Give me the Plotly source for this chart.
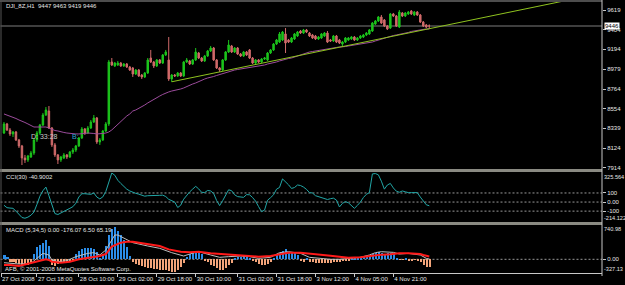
import plotly.graph_objects as go

# ---------------- data ----------------
symbol = "DJI_8Z,H1"

open_ = [
    8289, 8387, 8322, 8279, 8300, 8214, 8149, 8019, 7998, 8030,
    8073, 8214, 8289, 8376, 8484, 8527, 8343, 8160, 8052, 7998,
    8019, 8052, 8030, 8084, 8105, 8149, 8235, 8333, 8289, 8343,
    8408, 8452, 8192, 8214, 8311, 8387, 9057, 9014, 9024, 9046,
    9014, 9035, 9003, 8992, 8927, 8970, 8916, 8895, 8938, 9100,
    9057, 9014, 9079, 9046, 9133, 9079, 8873, 8916, 8906, 8938,
    8906, 9057, 9068, 9035, 9079, 9154, 9100, 9068, 9122, 9176,
    9208, 9079, 8992, 8970, 9079, 9165, 9230, 9165, 9208, 9143,
    9122, 9165, 9187, 9100, 9046, 9079, 9057, 9089, 9079, 9154,
    9187, 9251, 9273, 9295, 9360, 9295, 9273, 9306, 9338, 9392,
    9370, 9403, 9370, 9349, 9338, 9306, 9316, 9338, 9370, 9295,
    9284, 9338, 9295, 9251, 9273, 9295, 9306, 9327, 9295, 9316,
    9327, 9349, 9360, 9392, 9468, 9500, 9543, 9511, 9446, 9424,
    9576, 9554, 9435, 9587, 9554, 9576, 9608, 9565, 9597, 9565,
    9489, 9457, 9447]

high = [
    8408, 8398, 8343, 8311, 8311, 8225, 8160, 8052, 8052, 8095,
    8235, 8311, 8387, 8506, 8570, 8581, 8354, 8181, 8062, 8041,
    8073, 8062, 8095, 8127, 8160, 8246, 8354, 8343, 8365, 8430,
    8484, 8462, 8235, 8322, 8408, 9079, 9100, 9057, 9068, 9057,
    9046, 9046, 9014, 9003, 8981, 8981, 8927, 8949, 9100, 9187,
    9068, 9089, 9089, 9143, 9187, 9327, 8927, 8927, 8949, 8949,
    9068, 9100, 9079, 9089, 9208, 9165, 9111, 9133, 9187, 9230,
    9219, 9089, 9003, 9089, 9176, 9295, 9241, 9219, 9219, 9154,
    9176, 9176, 9197, 9111, 9089, 9089, 9100, 9111, 9165, 9197,
    9262, 9306, 9381, 9392, 9424, 9306, 9327, 9370, 9392, 9403,
    9414, 9414, 9381, 9360, 9349, 9338, 9370, 9381, 9392, 9306,
    9349, 9349, 9306, 9284, 9327, 9327, 9338, 9338, 9327, 9349,
    9360, 9381, 9414, 9489, 9511, 9554, 9565, 9522, 9457, 9587,
    9587, 9565, 9619, 9597, 9597, 9608, 9619, 9608, 9608, 9576,
    9500, 9468, 9463]

low = [
    8279, 8311, 8257, 8246, 8203, 8127, 7943, 7965, 7976, 8019,
    8052, 8192, 8268, 8365, 8473, 8333, 8138, 8030, 7954, 7976,
    8008, 8008, 8019, 8062, 8084, 8138, 8225, 8268, 8279, 8333,
    8398, 8171, 8160, 8203, 8300, 8365, 9014, 9003, 9014, 9003,
    9003, 8992, 8960, 8895, 8916, 8895, 8873, 8884, 8927, 9046,
    8992, 9003, 9035, 9035, 9122, 8852, 8841, 8895, 8895, 8895,
    8895, 9046, 9024, 9024, 9068, 9089, 9057, 9057, 9111, 9165,
    9068, 8981, 8949, 8960, 9068, 9154, 9154, 9154, 9133, 9111,
    9111, 9122, 9089, 9035, 9035, 9046, 9046, 9079, 9068, 9143,
    9176, 9241, 9262, 9284, 9154, 9262, 9262, 9295, 9327, 9360,
    9360, 9370, 9327, 9306, 9295, 9295, 9306, 9327, 9262, 9273,
    9273, 9262, 9251, 9230, 9262, 9284, 9295, 9284, 9284, 9306,
    9316, 9338, 9349, 9381, 9457, 9489, 9468, 9435, 9403, 9414,
    9543, 9435, 9424, 9543, 9543, 9565, 9565, 9554, 9554, 9478,
    9435, 9424, 9419]

close = [
    8387, 8322, 8279, 8300, 8214, 8149, 8019, 7998, 8041, 8073,
    8214, 8289, 8376, 8484, 8538, 8343, 8160, 8052, 7998, 8030,
    8052, 8030, 8084, 8105, 8149, 8235, 8333, 8289, 8343, 8408,
    8452, 8192, 8214, 8311, 8387, 9057, 9024, 9046, 9046, 9014,
    9035, 9003, 8970, 8927, 8970, 8906, 8895, 8938, 9079, 9057,
    9014, 9079, 9046, 9133, 9165, 8873, 8916, 8906, 8938, 8906,
    9057, 9079, 9035, 9079, 9165, 9100, 9068, 9122, 9176, 9208,
    9079, 8992, 8970, 9079, 9165, 9241, 9165, 9208, 9143, 9122,
    9165, 9133, 9100, 9046, 9079, 9057, 9089, 9100, 9154, 9187,
    9251, 9295, 9360, 9381, 9262, 9273, 9316, 9360, 9381, 9370,
    9403, 9381, 9338, 9316, 9306, 9327, 9360, 9370, 9273, 9284,
    9338, 9273, 9262, 9273, 9316, 9316, 9327, 9295, 9316, 9338,
    9349, 9370, 9403, 9478, 9500, 9543, 9478, 9446, 9414, 9576,
    9554, 9446, 9597, 9554, 9587, 9597, 9576, 9597, 9565, 9489,
    9446, 9435, 9446]

ma = [
    8495, 8484, 8473, 8462, 8446, 8430, 8419, 8403, 8387, 8370,
    8354, 8354, 8354, 8354, 8354, 8343, 8327, 8316, 8311, 8300,
    8295, 8289, 8284, 8284, 8279, 8279, 8279, 8284, 8289, 8289,
    8284, 8279, 8279, 8284, 8289, 8300, 8322, 8354, 8387, 8419,
    8446, 8473, 8495, 8527, 8538, 8554, 8576, 8592, 8614, 8635,
    8652, 8668, 8689, 8706, 8722, 8733, 8743, 8749, 8754, 8765,
    8776, 8792, 8808, 8819, 8830, 8846, 8862, 8873, 8884, 8889,
    8900, 8911, 8922, 8933, 8943, 8954, 8965, 8970, 8976, 8981,
    8987, 8992, 8997, 9003, 9008, 9014, 9019, 9024, 9035, 9041,
    9046, 9057, 9068, 9079, 9089, 9095, 9100, 9111, 9122, 9133,
    9149, 9160, 9165, 9170, 9176, 9181, 9187, 9197, 9203, 9208,
    9208, 9214, 9219, 9219, 9224, 9230, 9235, 9241, 9241, 9246,
    9251, 9262, 9268, 9273, 9284, 9295, 9306, 9316, 9327, 9338,
    9343, 9349, 9354, 9360, 9370, 9376, 9387, 9392, 9403, 9408,
    9414, 9414, 9414]

trend_bars = [56, 187]
trend_prices = [8843, 9717]

cci = [
    -35, -62, -66, -69, -100, -135, -170, -178, -166, -145,
    -110, -25, 65, 125, 165, 70, -40, -127, -137, -122,
    -104, -86, -69, -51, -13, 56, 92, 92, 90, 85,
    100, 55, 35, 57, 117, 227, 320, 295, 240, 205,
    172, 142, 122, 105, 96, 87, 77, 65, 70, 73,
    73, 73, 74, 76, 61, 30, 11, 0, -60, -35,
    32, 79, 112, 143, 173, 145, 107, 105, 128, 122,
    95, 17, -39, 15, 70, 135, 125, 80, 60, 58,
    52, 82, 80, 50, 10, -50, -106, -88, 20, 48,
    80, 142, 161, 255, 225, 190, 150, 160, 188, 182,
    165, 140, 104, 100, 70, 58, 50, 38, 28, 37,
    43, 22, -54, -15, 5, -8, -40, -69, -37, 0,
    50, 85, 104, 310, 314, 300, 230, 142, 188, 205,
    155, 120, 108, 122, 113, 104, 104, 104, 104, 55,
    5, -30, -40.9002]
cci_period = 30
cci_levels = [100, 0, -100]
cci_level_text = ["100", "0.00", "-100"]
cci_max, cci_min = 325.564, -214.122

macd_hist = [
    95, 60, -50, -55, -80, -100, -120, -130, -125, -90,
    120, 270, 320, 360, 440, 300, -120, -150, -100, -80,
    -70, -60, -50, -40, 110, 200, 240, 250, 255, 260,
    230, 170, 40, 120, 300, 560, 700, 735, 650, 560,
    430, 290, 80, -70, -110, -140, -160, -175, -190, -205,
    -215, -225, -235, -243, -250, -265, -280, -295, -250, -180,
    -80, 60, 130, 165, 173, 160, 110, -30, -70, -120,
    -160, -205, -240, -240, -190, -140, -80, 40, 60, 50,
    70, 45, 30, -20, -60, -100, -129, -129, -110, -70,
    30, 100, 150, 200, 225, 175, 150, 140, 100, -30,
    -50, 30, -54, -54, -90, -92, -92, -90, -85, -75,
    -60, -54, -50, -45, -40, -25, 10, 20, 40, 30,
    50, 60, 80, 110, 150, 170, 140, 100, 135, 150,
    120, 20, -10, -15, 20, -20, -25, -15, -20, -60,
    -120, -165, -176.07]

macd_main_bars = [0, 2, 5, 9, 11, 13, 15, 16, 18, 21,
                  24, 28, 30, 32, 34, 36, 37, 38, 39, 41,
                  43, 48, 52, 56, 60, 62, 65, 69, 72, 75,
                  79, 82, 85, 89, 92, 95, 99, 102, 105, 109,
                  112, 115, 119, 122, 124, 126, 130, 132, 135, 139,
                  141, 142]
macd_main = [-77, -92, -107, -92, 22, 135, 98, -16, -54, -31,
             60, 135, 151, 98, 211, 439, 552, 552, 514, 439,
             378, 302, 249, 151, 75, 120, 173, 98, 45, 60,
             75, 60, 22, 45, 151, 173, 135, 45, 22, 0,
             0, 22, 45, 98, 151, 173, 158, 120, 135, 98,
             22, 6.50]

macd_signal_bars = [0, 2, 5, 9, 12, 14, 15, 16, 19, 22,
                    25, 29, 32, 34, 36, 39, 41, 43, 45, 49,
                    52, 55, 59, 62, 65, 69, 72, 75, 79, 82,
                    85, 89, 92, 95, 99, 102, 105, 109, 112, 115,
                    119, 122, 125, 129, 132, 135, 139, 140, 142]
macd_signal = [-129, -129, -152, -92, -31, 0, -16, -54, -77, -54,
               0, 45, 75, 120, 287, 378, 401, 401, 378, 348,
               302, 226, 173, 158, 173, 135, 120, 120, 98, 75,
               60, 75, 120, 151, 151, 135, 120, 83, 60, 37,
               45, 75, 98, 113, 135, 135, 120, 98, 65.19]
macd_params = "(5,34,5)"
macd_max, macd_min = 740.98, -327.13

price_ticks = [9619, 9404, 9194, 8979, 8764, 8554, 8339, 8124, 7914]

date_ticks = [-1, 11, 25, 38, 51, 64, 78, 91, 104, 117, 130]
date_labels = ["27 Oct 2008", "27 Oct 18:00", "28 Oct 10:00", "29 Oct 02:00",
               "29 Oct 18:00", "30 Oct 10:00", "31 Oct 02:00", "31 Oct 18:00",
               "3 Nov 12:00", "4 Nov 05:00", "4 Nov 21:00"]

info_d = "D: 33:28"
info_b = "B:"
copyright_text = "AFB, \u00a9 2001-2008 MetaQuotes Software Corp."

# ---------------- styling / layout helpers ----------------
W, H = 625, 285


def py(p):
    return 1 - p / H


def px(p):
    return p / W


BG = "#000000"
GREEN = "#1CC41C"
RED = "#D06A6A"
MA_C = "#9C4C9C"
TREND_C = "#8FC31F"
CCI_C = "#22A6A6"
HIST_POS = "#2B8DE8"
HIST_NEG = "#F2A47A"
SIG_C = "#FF1A1A"
MAIN_C = "#BDBDBD"
SEP_C = "#8A8A82"
AX_C = "#C8C8C8"
TXT_C = "#E6E6E6"
LEVEL_C = "#9A9A9A"
FONT = "Liberation Sans, Arial, sans-serif"
FS = 6

bars = list(range(len(close)))

fig = go.Figure()

fig.add_trace(go.Candlestick(
    x=bars, open=open_, high=high, low=low, close=close,
    increasing=dict(line=dict(color=GREEN, width=1), fillcolor=GREEN),
    decreasing=dict(line=dict(color=RED, width=1), fillcolor=RED),
    whiskerwidth=0, hoverinfo="skip", xaxis="x", yaxis="y"))

fig.add_trace(go.Scatter(x=bars, y=ma, mode="lines",
                         line=dict(color=MA_C, width=1), hoverinfo="skip",
                         xaxis="x", yaxis="y"))
fig.add_trace(go.Scatter(x=trend_bars, y=trend_prices, mode="lines",
                         line=dict(color=TREND_C, width=1), hoverinfo="skip",
                         xaxis="x", yaxis="y"))

fig.add_trace(go.Scatter(x=bars, y=cci, mode="lines",
                         line=dict(color=CCI_C, width=1), hoverinfo="skip",
                         xaxis="x2", yaxis="y2"))

fig.add_trace(go.Bar(x=bars, y=macd_hist, width=0.68,
                     marker=dict(color=[HIST_POS if v >= 0 else HIST_NEG for v in macd_hist],
                                 line=dict(width=0)),
                     hoverinfo="skip", xaxis="x3", yaxis="y3"))
fig.add_trace(go.Scatter(x=macd_main_bars, y=macd_main, mode="lines",
                         line=dict(color=MAIN_C, width=1), hoverinfo="skip",
                         xaxis="x3", yaxis="y3"))
fig.add_trace(go.Scatter(x=macd_signal_bars, y=macd_signal, mode="lines",
                         line=dict(color=SIG_C, width=2), hoverinfo="skip",
                         xaxis="x3", yaxis="y3"))

x_dom = [px(0.5), px(602)]
x_rng = [-7 / 6, 599 / 3]
common_x = dict(domain=x_dom, range=x_rng, showgrid=False, zeroline=False,
                showticklabels=False, ticks="", fixedrange=True, automargin=False)
common_y = dict(side="right", showgrid=False, zeroline=False, ticks="outside",
                ticklen=3, tickwidth=1, tickcolor=AX_C, showline=False,
                tickfont=dict(family=FONT, size=FS, color=TXT_C), fixedrange=True,
                automargin=False)

fig.update_layout(
    width=W, height=H, margin=dict(l=0, r=0, t=0, b=0, autoexpand=False),
    paper_bgcolor=BG, plot_bgcolor=BG, showlegend=False, hovermode=False,
    bargap=0,
    xaxis=dict(**common_x, anchor="y", rangeslider=dict(visible=False)),
    xaxis2=dict(**common_x, anchor="y2"),
    xaxis3=dict(domain=x_dom, range=x_rng, showgrid=False, zeroline=False,
                anchor="y3", tickmode="array", tickvals=date_ticks, ticktext=date_labels,
                ticks="outside", ticklen=3, tickcolor=AX_C, tickangle=0,
                ticklabelposition="outside right", automargin=False,
                tickfont=dict(family=FONT, size=FS, color=TXT_C),
                showline=True, linecolor=AX_C, linewidth=1, fixedrange=True),
    yaxis=dict(**common_y, anchor="x", domain=[py(169), py(2)],
               range=[7899.9, 9705.5], tickmode="array", tickvals=price_ticks),
    yaxis2=dict(**common_y, anchor="x2", domain=[py(221.5), py(172.5)],
                range=[cci_min, cci_max], tickmode="array",
                tickvals=cci_levels, ticktext=cci_level_text),
    yaxis3=dict(**common_y, anchor="x3", domain=[py(272.5), py(225)],
                range=[-300, 779.6], tickmode="array", tickvals=[0], ticktext=["0.00"]),
)

shapes = []
# bid line at last close
shapes.append(dict(type="line", xref="paper", yref="y", x0=x_dom[0], x1=x_dom[1],
                   y0=close[-1], y1=close[-1], line=dict(color="#7C7C7C", width=1),
                   layer="below"))
# CCI levels
for lv in cci_levels:
    shapes.append(dict(type="line", xref="paper", yref="y2", x0=x_dom[0], x1=x_dom[1],
                       y0=lv, y1=lv, line=dict(color=LEVEL_C, width=1, dash="2px,2px"),
                       layer="below"))
# MACD zero
shapes.append(dict(type="line", xref="paper", yref="y3", x0=x_dom[0], x1=x_dom[1],
                   y0=0, y1=0, line=dict(color=LEVEL_C, width=1, dash="2px,2px"),
                   layer="below"))
# panel separators
for top in (169, 222):
    shapes.append(dict(type="rect", xref="paper", yref="paper", x0=0, x1=px(602),
                       y0=py(top + 3), y1=py(top), fillcolor=SEP_C, line=dict(width=0)))
# top border
shapes.append(dict(type="line", xref="paper", yref="paper", x0=0, x1=px(602),
                   y0=py(1), y1=py(1), line=dict(color="#9A9A9A", width=1)))
# left border
shapes.append(dict(type="line", xref="paper", yref="paper", x0=px(1), x1=px(1),
                   y0=py(272.5), y1=py(1), line=dict(color="#555555", width=1)))
# right price-axis line
shapes.append(dict(type="line", xref="paper", yref="paper", x0=px(602), x1=px(602),
                   y0=py(276), y1=1, line=dict(color=AX_C, width=1)))
fig.update_layout(shapes=shapes)

f = dict(family=FONT, size=FS, color=TXT_C)
ann = []
ann.append(dict(text=f"{symbol}  {open_[-1]} {high[-1]} {low[-1]} {close[-1]}",
                x=px(4), y=py(6.5), xref="paper", yref="paper",
                xanchor="left", yanchor="middle", showarrow=False, font=f))
ann.append(dict(text=f"CCI({cci_period}) {cci[-1]}", x=px(4), y=py(177),
                xref="paper", yref="paper", xanchor="left", yanchor="middle",
                showarrow=False, font=f))
ann.append(dict(text=f"MACD {macd_params} 0.00 {macd_hist[-1]:.2f} {macd_main[-1]:.2f} {macd_signal[-1]:.2f}",
                x=px(4), y=py(230), xref="paper", yref="paper", xanchor="left",
                yanchor="middle", showarrow=False, font=f))
ann.append(dict(text=copyright_text, x=px(3), y=py(269), xref="paper", yref="paper",
                xanchor="left", yanchor="middle", showarrow=False, font=f))
ann.append(dict(text=info_d, x=px(29), y=py(137), xref="paper", yref="paper",
                xanchor="left", yanchor="middle", showarrow=False,
                font=dict(family=FONT, size=7, color="#C8C8C8")))
ann.append(dict(text=info_b, x=px(70), y=py(137), xref="paper", yref="paper",
                xanchor="left", yanchor="middle", showarrow=False,
                font=dict(family=FONT, size=7, color="#2AA8D0")))
# scale extremes of the indicator windows
for val, ytop, anchor in ((cci_max, 172.5, "top"), (cci_min, 221.5, "bottom"),
                          (macd_max, 225, "top"), (macd_min, 272.5, "bottom")):
    ann.append(dict(text=f"{val}", x=px(603), y=py(ytop), xref="paper", yref="paper",
                    xanchor="left", yanchor=anchor, showarrow=False, borderpad=0,
                    font=dict(family=FONT, size=5.6, color=TXT_C)))
# current price box
ann.append(dict(text=f"{close[-1]}", x=px(604), y=close[-1], xref="paper", yref="y",
                xanchor="left", yanchor="middle", showarrow=False, bgcolor="#FFFFFF",
                borderpad=0, font=dict(family=FONT, size=FS, color="#000000")))
fig.update_layout(annotations=ann)

fig.write_html("out.html")
